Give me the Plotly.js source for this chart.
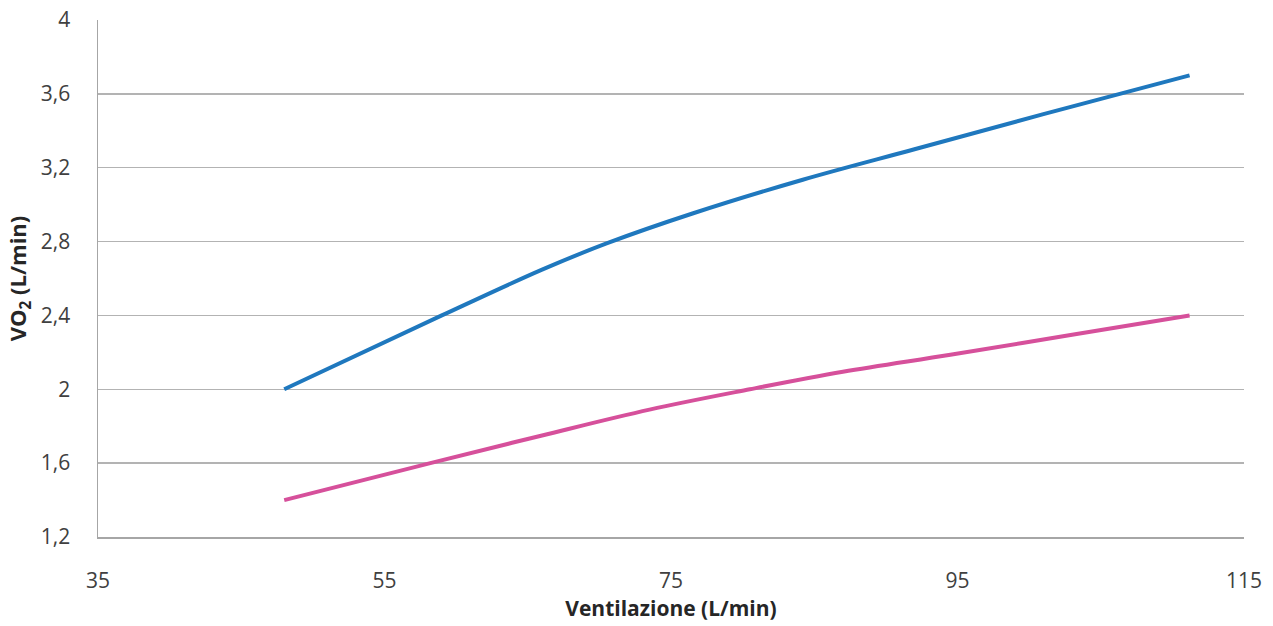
<!DOCTYPE html>
<html>
<head>
<meta charset="utf-8">
<script src="https://cdn.plot.ly/plotly-3.0.1.min.js"></script>
<style>
  html, body { margin: 0; padding: 0; background: #ffffff; }
  #chart { width: 1273px; height: 626px; }
</style>
</head>
<body>
<div id="chart"></div>
<script>
// Series 1 (blue)
const blueX = [48, 59, 66, 70.5, 76.5, 84.2, 92, 101, 111.2];
const blueY = [2.0, 2.4, 2.648, 2.79, 2.952, 3.135, 3.3, 3.49, 3.7];
// Series 2 (pink)
const pinkX = [48, 58.2, 66, 73.5, 80.5, 87, 94.5, 103, 111.2];
const pinkY = [1.40, 1.60, 1.75, 1.89, 2.00, 2.095, 2.187, 2.295, 2.40];

const xTicks = [35, 55, 75, 95, 115];
const yTicks = [1.2, 1.6, 2.0, 2.4, 2.8, 3.2, 3.6, 4.0];
const yTickText = ["1,2", "1,6", "2", "2,4", "2,8", "3,2", "3,6", "4"];

const xTitle = "Ventilazione (L/min)";
const yTitle = "VO<sub>2</sub> (L/min)";

const font = "Open Sans, Liberation Sans, sans-serif";

const traces = [
  {
    x: blueX, y: blueY, type: "scatter", mode: "lines",
    line: { color: "#1f78be", width: 4, shape: "spline", smoothing: 1 },
    showlegend: false, hoverinfo: "skip"
  },
  {
    x: pinkX, y: pinkY, type: "scatter", mode: "lines",
    line: { color: "#d6509b", width: 4, shape: "spline", smoothing: 1 },
    showlegend: false, hoverinfo: "skip"
  }
];

const layout = {
  width: 1273, height: 626,
  margin: { l: 98, r: 29, t: 20, b: 89, pad: 0 },
  paper_bgcolor: "#ffffff", plot_bgcolor: "#ffffff",
  separators: ",.",
  font: { family: font, color: "#404040", size: 21 },
  xaxis: {
    range: [35, 115],
    tickmode: "array", tickvals: xTicks, ticktext: xTicks.map(String),
    showgrid: false, zeroline: false,
    showline: true, linecolor: "#a6a6a6", linewidth: 1.5,
    ticks: "", ticklabelstandoff: 24,
    tickfont: { family: font, size: 21, color: "#404040" },
    title: { text: xTitle, font: { family: font, size: 21, color: "#262626", weight: "bold" }, standoff: 7 }
  },
  yaxis: {
    range: [1.2, 4.0],
    tickmode: "array", tickvals: yTicks, ticktext: yTickText,
    showgrid: true, gridcolor: "#b3b3b3", gridwidth: 1.3,
    zeroline: false,
    showline: true, linecolor: "#a6a6a6", linewidth: 1.5,
    ticks: "", ticklabelstandoff: 22,
    tickfont: { family: font, size: 21, color: "#404040" },
    title: { text: yTitle, font: { family: font, size: 22, color: "#262626", weight: "bold" }, standoff: 8 }
  }
};

Plotly.newPlot("chart", traces, layout, { staticPlot: true, displayModeBar: false });
</script>
</body>
</html>
